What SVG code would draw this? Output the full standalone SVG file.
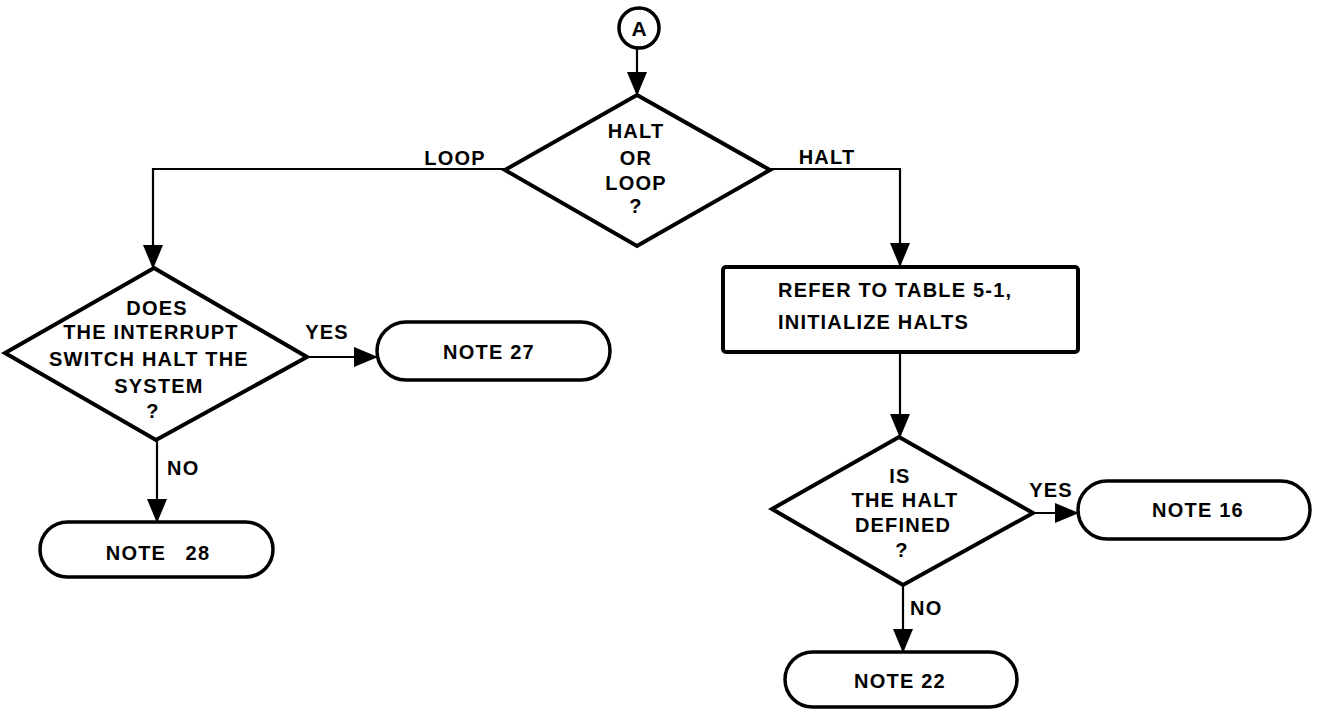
<svg xmlns="http://www.w3.org/2000/svg" width="1319" height="712" viewBox="0 0 1319 712">
<style>
.shape{fill:#fff;stroke:#000;stroke-width:4;stroke-linejoin:miter}
.term{fill:#fff;stroke:#000;stroke-width:3.5}
.conn{fill:none;stroke:#000;stroke-width:2.2}
text{font-family:"Liberation Sans",Arial,Helvetica,sans-serif;font-weight:bold;font-size:20px;letter-spacing:1.2px;fill:#000}
.c{text-anchor:middle}
</style>
<defs>
<marker id="ah" markerUnits="userSpaceOnUse" markerWidth="24" markerHeight="20" refX="23" refY="10" orient="auto">
<path d="M0,0 L24,10 L0,20 z" fill="#000"/>
</marker>
</defs>
<rect width="1319" height="712" fill="#fff"/>
<g id="connectors">
<line class="conn" x1="637" y1="48" x2="637" y2="95" marker-end="url(#ah)"/>
<polyline class="conn" points="505,169 153,169 153,268" marker-end="url(#ah)"/>
<polyline class="conn" points="770,169 900,169 900,266" marker-end="url(#ah)"/>
<line class="conn" x1="307" y1="357" x2="377" y2="357" marker-end="url(#ah)"/>
<line class="conn" x1="157" y1="440" x2="157" y2="522" marker-end="url(#ah)"/>
<line class="conn" x1="900" y1="352" x2="900" y2="437" marker-end="url(#ah)"/>
<line class="conn" x1="1033" y1="513" x2="1078" y2="513" marker-end="url(#ah)"/>
<line class="conn" x1="903" y1="585" x2="903" y2="652" marker-end="url(#ah)"/>
<text x="455" y="165" class="c">LOOP</text>
<text x="827" y="164" class="c">HALT</text>
<text x="327" y="339" class="c">YES</text>
<text x="167" y="475">NO</text>
<text x="1051" y="497" class="c">YES</text>
<text x="910" y="615">NO</text>
</g>
<g id="connectorA">
<circle cx="639" cy="28" r="20" class="term" stroke-width="3"/>
<text x="639" y="36" class="c" style="letter-spacing:0;font-size:21px">A</text>
</g>
<g id="haltOrLoop">
<polygon class="shape" points="637,95 770,170 637,246 505,170"/>
<text x="636" y="138" class="c">HALT</text>
<text x="636" y="165" class="c">OR</text>
<text x="636" y="190" class="c">LOOP</text>
<text x="636" y="213" class="c">?</text>
</g>
<g id="interruptSwitch">
<polygon class="shape" points="154,268 307,357 156,440 5,353"/>
<text x="157" y="315" class="c">DOES</text>
<text x="151" y="339" class="c">THE INTERRUPT</text>
<text x="149" y="366" class="c">SWITCH HALT THE</text>
<text x="159" y="393" class="c">SYSTEM</text>
<text x="153" y="418" class="c">?</text>
</g>
<g id="note27">
<rect class="term" x="377" y="322" width="233" height="58" rx="29" ry="29"/>
<text x="489" y="359" class="c">NOTE 27</text>
</g>
<g id="note28">
<rect class="term" x="40" y="522" width="233" height="55" rx="27.5" ry="27.5"/>
<text x="158" y="560" class="c" xml:space="preserve" style="word-spacing:3px">NOTE  28</text>
</g>
<g id="initHalts">
<rect class="shape" x="723" y="267" width="355" height="85" rx="3" ry="3"/>
<text x="778" y="297">REFER TO TABLE 5-1,</text>
<text x="778" y="329">INITIALIZE HALTS</text>
</g>
<g id="haltDefined">
<polygon class="shape" points="899,437 1033,513 903,585 772,509"/>
<text x="900" y="483" class="c">IS</text>
<text x="905" y="507" class="c">THE HALT</text>
<text x="903" y="532" class="c">DEFINED</text>
<text x="902" y="557" class="c">?</text>
</g>
<g id="note16">
<rect class="term" x="1078" y="481" width="232" height="58" rx="29" ry="29"/>
<text x="1198" y="517" class="c">NOTE 16</text>
</g>
<g id="note22">
<rect class="term" x="785" y="652" width="232" height="55" rx="27.5" ry="27.5"/>
<text x="900" y="688" class="c">NOTE 22</text>
</g>
</svg>
